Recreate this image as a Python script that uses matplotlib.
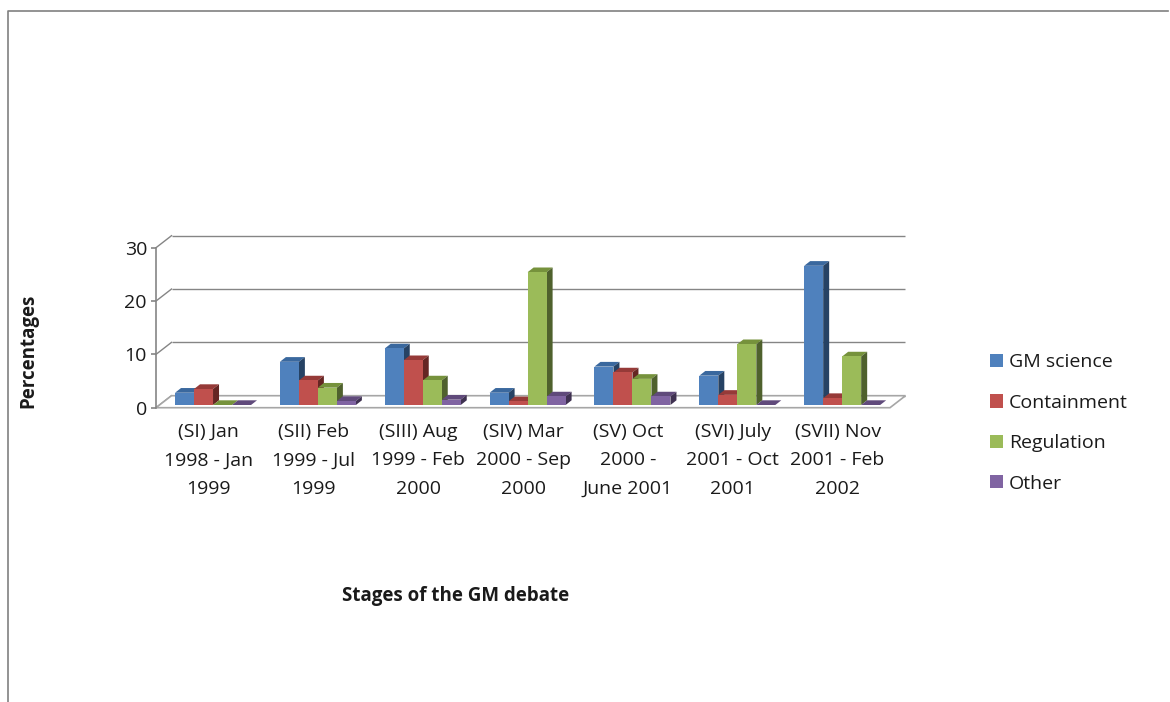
import matplotlib
matplotlib.use("Agg")
import matplotlib.pyplot as plt
from matplotlib.patches import Patch, Polygon
from matplotlib.lines import Line2D

plt.rcParams["font.family"] = ["Open Sans", "DejaVu Sans"]

stages = ["(SI) Jan\n1998 - Jan\n1999", "(SII) Feb\n1999 - Jul\n1999",
          "(SIII) Aug\n1999 - Feb\n2000", "(SIV) Mar\n2000 - Sep\n2000",
          "(SV) Oct\n2000 -\nJune 2001", "(SVI) July\n2001 - Oct\n2001",
          "(SVII) Nov\n2001 - Feb\n2002"]
series_names = ["GM science", "Containment", "Regulation", "Other"]
gm_science = [2.3, 8.1, 10.6, 2.3, 7.2, 5.5, 26.1]
containment = [3.0, 4.6, 8.4, 0.7, 6.1, 1.9, 1.3]
regulation = [0.0, 3.25, 4.6, 24.9, 4.9, 11.4, 9.1]
other = [0.0, 0.75, 1.0, 1.6, 1.6, 0.0, 0.0]
y_ticks = [0, 10, 20, 30]

front_colors = ["#4f81bd", "#c0504d", "#9bbb59", "#8064a2"]
top_colors = ["#3a689e", "#963a38", "#76923c", "#604a7b"]
side_colors = ["#264264", "#652523", "#4f612d", "#3f3151"]

W, H = 1170, 702
fig = plt.figure(figsize=(W / 100, H / 100), dpi=100)
fig.patch.set_facecolor("white")


def px(x, y):
    # pixel position, measured from the top left, to figure fractions
    return x / W, 1 - y / H


# plot box: front edge of the floor and the 30 tick
left, right, bottom, top = 156, 890, 407.7, 247.7
ax = fig.add_axes([left / W, 1 - bottom / H, (right - left) / W, (bottom - top) / H])
ax.set_xlim(0, 7)
ax.set_ylim(0, 30)
ax.patch.set_visible(False)

x_per_px = 7 / (right - left)
y_per_px = 30 / (bottom - top)

# depth of the floor and walls
wall_dx = 15.5 * x_per_px
wall_dy = 12 * y_per_px
# depth of one bar
bar_dx = 6 * x_per_px
bar_dy = 4.7 * y_per_px
bar_w = 19 * x_per_px
lift = 2.7 * y_per_px
shift = 4.6 * x_per_px

grid_color = "#858585"

# back wall gridlines and the slanted lines on the side wall
for t in y_ticks:
    ax.plot([wall_dx, 7 + wall_dx], [t + wall_dy, t + wall_dy], color=grid_color,
            lw=1.0, clip_on=False, zorder=1, solid_capstyle="butt")
    ax.plot([0, wall_dx], [t, t + wall_dy], color=grid_color, lw=1.0,
            clip_on=False, zorder=1)

# floor
ax.add_patch(Polygon([(0, 0), (wall_dx, wall_dy), (7 + wall_dx, wall_dy), (7, 0)],
                     facecolor="white", edgecolor="#a6a6a6", lw=1.2,
                     clip_on=False, zorder=1.5))

for s, values in enumerate([gm_science, containment, regulation, other]):
    positions = [i + 0.5 + shift + (s - 1.5) * bar_w for i in range(len(stages))]
    ax.bar(positions, values, width=bar_w, bottom=lift, color=front_colors[s],
           zorder=3, clip_on=False)
    for x, v in zip(positions, values):
        x0, x1 = x - bar_w / 2, x + bar_w / 2
        y0, y1 = lift, lift + v
        ax.add_patch(Polygon([(x0, y1), (x1, y1), (x1 + bar_dx, y1 + bar_dy),
                              (x0 + bar_dx, y1 + bar_dy)],
                             facecolor=top_colors[s], lw=0, clip_on=False, zorder=2))
        ax.add_patch(Polygon([(x1, y0), (x1, y1), (x1 + bar_dx, y1 + bar_dy),
                              (x1 + bar_dx, y0 + bar_dy)],
                             facecolor=side_colors[s], lw=0, clip_on=False, zorder=2))

for name in ["top", "right", "bottom"]:
    ax.spines[name].set_visible(False)
ax.spines["left"].set_color(grid_color)
ax.spines["left"].set_linewidth(1.2)

ax.set_yticks(y_ticks)
ax.set_xticks([i + 0.5 for i in range(len(stages))])
ax.set_xticklabels(stages, linespacing=1.75)
ax.tick_params(axis="y", length=3.5, width=1.2, color=grid_color, labelsize=14,
               labelcolor="#1a1a1a", pad=3)
ax.tick_params(axis="x", length=0, labelsize=14, labelcolor="#1a1a1a", pad=11)

# axis titles
fig.text(*px(28, 351), "Percentages", rotation=90, ha="center", va="center",
         fontsize=13.5, fontweight="bold", color="#1a1a1a")
fig.text(*px(456, 596), "Stages of the GM debate", ha="center", va="center",
         fontsize=13.5, fontweight="bold", color="#1a1a1a")

handles = [Patch(facecolor=c, label=n) for c, n in zip(front_colors, series_names)]
fig.legend(handles=handles, loc="center left", bbox_to_anchor=px(990, 423),
           frameon=False, fontsize=14, handlelength=0.67, handleheight=0.67,
           labelspacing=1.15, handletextpad=0.3, borderpad=0, borderaxespad=0,
           labelcolor="#1a1a1a")

# outer frame, top and left only
fig.add_artist(Line2D([8 / W, 8 / W, 1168 / W], [0, 1 - 10.5 / H, 1 - 10.5 / H],
                      color="#808080", lw=1.2))

fig.savefig("out.png", dpi=100)
plt.close(fig)
